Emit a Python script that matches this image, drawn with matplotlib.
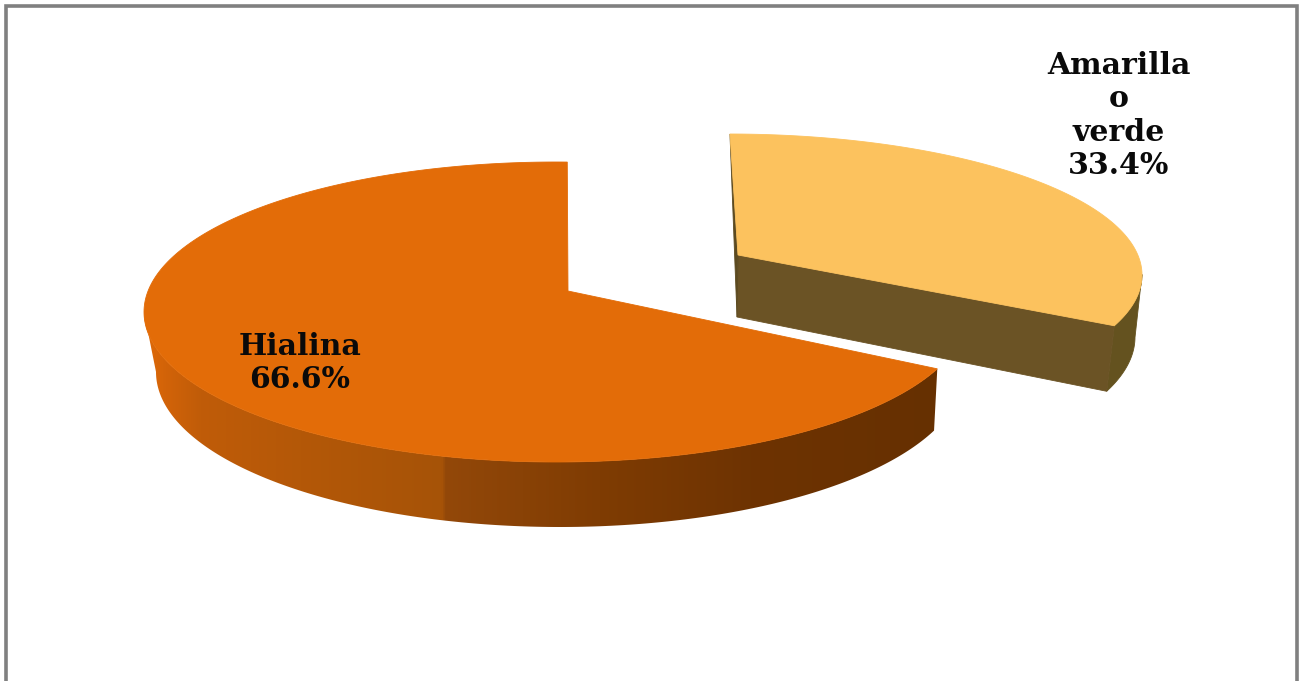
import matplotlib

matplotlib.use('Agg')
import matplotlib.pyplot as plt
from matplotlib.colors import LinearSegmentedColormap
from matplotlib.patches import Polygon
import numpy as np

categories = ["Hialina", "Amarilla\no\nverde"]
shares = [66.6, 33.4]

W, H = 1300, 681
fig = plt.figure(figsize=(W / 100, H / 100), dpi=100)
ax = fig.add_axes([0, 0, 1, 1])


def rim(ell, apex, deg):
    # point of a tilted disc: circle boosted so its centre lands on the apex
    cx, cy, rx, ry = ell
    t = np.radians(deg)
    p = np.column_stack([np.cos(t), np.sin(t)])
    b = np.array([(apex[0] - cx) / rx, (cy - apex[1]) / ry])
    b2 = b @ b
    dot = p @ b
    par = np.outer(dot / b2, b)
    q = (b + par + np.sqrt(1 - b2) * (p - par)) / (1 + dot)[:, None]
    return np.column_stack([cx + rx * q[:, 0], cy - ry * q[:, 1]])


def face(pts, color, z):
    ax.add_patch(Polygon(pts, closed=True, fc=color, ec=color, lw=0.6, zorder=z))


def shaded(pts, stops, z):
    # side wall with a left to right shade
    x0, x1 = pts[:, 0].min(), pts[:, 0].max()
    y0, y1 = pts[:, 1].min(), pts[:, 1].max()
    cm = LinearSegmentedColormap.from_list(
        'side', [((x - x0) / (x1 - x0), c) for x, c in stops], N=512)
    im = ax.imshow(np.linspace(0, 1, 512)[None, :], extent=(x0, x1, y1, y0),
                   aspect='auto', cmap=cm, zorder=z)
    clip = Polygon(pts, closed=True, transform=ax.transData)
    im.set_clip_path(clip)


# big slice, runs counter-clockwise from the top
top1 = (556, 312, 412, 150)
low1 = (560, 372, 404, 155)
apex1 = (568, 291)
end1 = 90 + shares[0] / 100 * 360
arc1 = np.linspace(90, end1, 300)
wall1 = np.linspace(188, end1, 200)
outer = np.vstack([rim(top1, apex1, wall1), rim(low1, (571, 350), wall1)[::-1]])
x_start, x_end = outer[:, 0].min(), outer[:, 0].max()
side_stops = [(x_start, '#e06a08'), (165, '#d26308'), (200, '#c05c08'), (300, '#b45808'),
              (442, '#a65307'), (445, '#934809'), (600, '#7f3c03'), (750, '#6e3302'),
              (x_end, '#663001')]
shaded(outer, side_stops, 2)
face(np.vstack([[apex1], rim(top1, apex1, arc1)]), '#e36c08', 3)

# small slice, pulled out to the right, clockwise from the top
top2 = (729, 275, 413, 141)
low2 = (729, 337, 406, 148)
apex2 = (738, 255)
apex2_low = (737, 317)
turn = 1.2
start2 = 90 + turn
end2 = start2 - shares[1] / 100 * 360
arc2 = np.linspace(start2, end2, 200)
wall2 = np.linspace(-8, end2, 60)
face(np.vstack([rim(top2, apex2, wall2), rim(low2, apex2_low, wall2)[::-1]]), '#64521f', 4)
face(np.vstack([[apex2], rim(top2, apex2, [end2]), rim(low2, apex2_low, [end2]), [apex2_low]]),
     '#6b5325', 5)
face(np.vstack([[apex2], rim(top2, apex2, [start2]), [apex2_low]]), '#5c4a20', 5)
face(np.vstack([[apex2], rim(top2, apex2, arc2)]), '#fcc25e', 6)

# outer border, open at the bottom
ax.plot([6, 6, 1297, 1297], [H, 6, 6, H], color='#808080', lw=2.6, solid_joinstyle='miter', zorder=7)

txt = dict(family='DejaVu Serif', fontweight='bold', fontsize=21.5, color='#0a0a0a',
           ha='center', zorder=8, linespacing=1.19)
ax.text(300, 388, f"{categories[0]}\n{shares[0]}%", va='baseline', **txt)
ax.text(1119, 174, f"{categories[1]}\n{shares[1]}%", va='baseline', **txt)

ax.set_xlim(0, W)
ax.set_ylim(H, 0)
ax.axis('off')
fig.savefig('out.png', dpi=100, facecolor='white')
